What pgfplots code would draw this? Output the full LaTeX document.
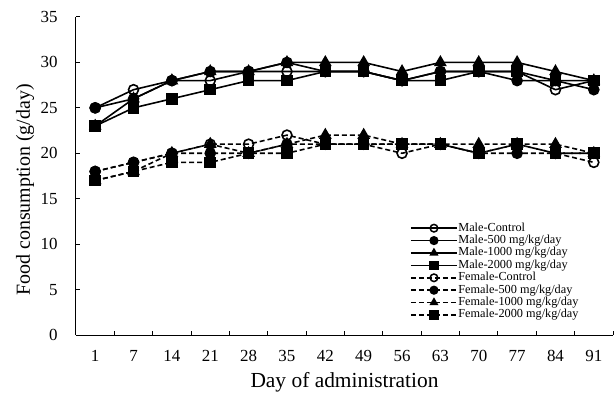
\documentclass[border=0pt]{standalone}
\usepackage{pgfplots}
\pgfplotsset{compat=1.18}
\usepackage{fontspec}
\setmainfont{Liberation Serif}
\begin{document}
\begin{tikzpicture}
\begin{axis}[
  scale only axis, width=537bp, height=318bp,
  xmin=0.5, xmax=14.5, ymin=0, ymax=35,
  axis lines=left, axis line style={-, line width=1bp},
  xtick={1,...,14},
  xticklabels={1,7,14,21,28,35,42,49,56,63,70,77,84,91},
  major x tick style={draw=none},
  minor xtick={1.5,2.5,...,14.5},
  ytick={0,5,...,35},
  tick align=inside, major tick length=4bp, minor tick length=4bp,
  every tick/.style={line width=1bp, black},
  ticklabel style={font=\fontsize{17}{17}\selectfont},
  /pgf/number format/assume math mode=true,
  yticklabel style={xshift=-15bp},
  xticklabel style={yshift=-12bp},
  xlabel={Day of administration}, ylabel={Food consumption (g/day)},
  label style={font=\fontsize{20}{20}\selectfont},
  xlabel style={at={(axis description cs:0.5,0)}, anchor=center, yshift=-47bp, font=\fontsize{21.5}{21.5}\selectfont},
  ylabel style={at={(axis description cs:0,0.456)}, anchor=center, yshift=51bp},
  male/.style={black, line width=1.6bp, solid},
  female/.style={black, line width=1.6bp, dash pattern=on 5bp off 3bp},
  legend image code/.code={\draw[#1,line width=1.5bp,mark repeat=2,mark phase=2,mark size=3.8bp] plot coordinates {(0bp,0bp) (23bp,0bp) (46bp,0bp)};},
  legend style={draw=none, fill=none, at={(0.622,0.356)}, anchor=north west,
    font=\fontsize{12.3}{12.3}\selectfont, inner sep=0pt, row sep=0pt,
    nodes={inner sep=0.7bp, text height=8.5bp, text depth=2.5bp}},
  legend cell align=left,
]
\addplot[male, mark=o, mark options={solid, fill=white}, mark size=5bp] coordinates {
(1,25)(2,27)(3,28)(4,28)(5,29)(6,29)(7,29)(8,29)(9,28)(10,29)(11,29)(12,29)(13,27)(14,28)};
\addlegendentry{Male-Control}
\addplot[male, mark=*, mark options={solid}, mark size=5bp] coordinates {
(1,25)(2,26)(3,28)(4,29)(5,29)(6,30)(7,29)(8,29)(9,28)(10,29)(11,29)(12,28)(13,28)(14,27)};
\addlegendentry{Male-500 mg/kg/day}
\addplot[male, mark=triangle*, mark options={solid}, mark size=5.8bp] coordinates {
(1,23)(2,26)(3,28)(4,29)(5,29)(6,30)(7,30)(8,30)(9,29)(10,30)(11,30)(12,30)(13,29)(14,28)};
\addlegendentry{Male-1000 mg/kg/day}
\addplot[male, mark=square*, mark options={solid}, mark size=5bp] coordinates {
(1,23)(2,25)(3,26)(4,27)(5,28)(6,28)(7,29)(8,29)(9,28)(10,28)(11,29)(12,29)(13,28)(14,28)};
\addlegendentry{Male-2000 mg/kg/day}
\addplot[female, mark=o, mark options={solid, fill=white}, mark size=5bp] coordinates {
(1,18)(2,19)(3,20)(4,21)(5,21)(6,22)(7,21)(8,21)(9,20)(10,21)(11,20)(12,21)(13,20)(14,19)};
\addlegendentry{Female-Control}
\addplot[female, mark=*, mark options={solid}, mark size=5bp] coordinates {
(1,18)(2,19)(3,20)(4,20)(5,20)(6,21)(7,21)(8,21)(9,21)(10,21)(11,20)(12,20)(13,20)(14,20)};
\addlegendentry{Female-500 mg/kg/day}
\addplot[female, mark=triangle*, mark options={solid}, mark size=5.8bp] coordinates {
(1,17)(2,18)(3,20)(4,21)(5,20)(6,21)(7,22)(8,22)(9,21)(10,21)(11,21)(12,21)(13,21)(14,20)};
\addlegendentry{Female-1000 mg/kg/day}
\addplot[female, mark=square*, mark options={solid}, mark size=5bp] coordinates {
(1,17)(2,18)(3,19)(4,19)(5,20)(6,20)(7,21)(8,21)(9,21)(10,21)(11,20)(12,21)(13,20)(14,20)};
\addlegendentry{Female-2000 mg/kg/day}
\end{axis}
\pgfresetboundingbox
\path[use as bounding box] (-76bp,-60bp) rectangle (540bp,335bp);
\end{tikzpicture}
\end{document}
